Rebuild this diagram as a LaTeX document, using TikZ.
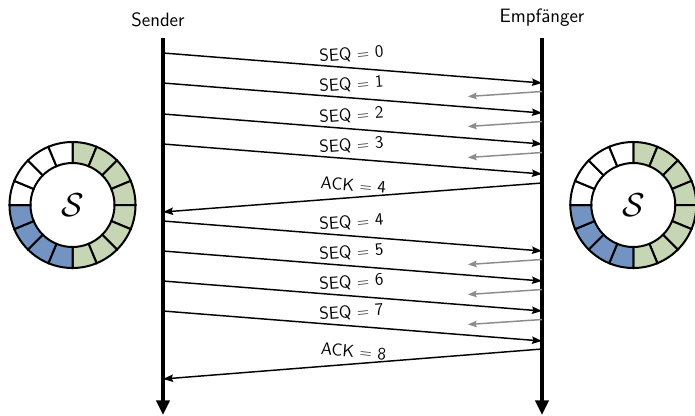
\documentclass[tikz,border=0pt]{standalone}
\usepackage{amsmath}
\usepackage{amssymb}
\usetikzlibrary{arrows.meta}
\definecolor{ringgreen}{RGB}{198,214,180}
\definecolor{ringblue}{RGB}{115,148,194}
\definecolor{lostgray}{RGB}{140,140,140}

\begin{document}
\begin{tikzpicture}[x=0.75pt,y=0.75pt,yscale=-1,xscale=1,
    font=\sffamily\fontsize{14.5}{17}\selectfont,
    lifeline/.style={line width=2.5pt,-{Triangle[length=11pt,width=10pt]}},
    msg/.style={line width=1.1pt,-{Stealth[length=7.5pt,width=5.5pt,inset=1pt]}},
    lost/.style={line width=1.1pt,lostgray,-{Stealth[length=6.5pt,width=5pt,inset=1pt]}},
    lbl/.style={midway,sloped,above=3.5pt,inner sep=0.75pt,font=\sffamily\fontsize{13}{16}\selectfont},
    seg/.style={line width=1.5pt}]
    \useasboundingbox (0,0) rectangle (695,415);

    % Text Node
    \node (sender) [anchor=south,inner sep=0.75pt] at (158,28) {Sender};
    % Text Node
    \node (empf) [anchor=south,inner sep=0.75pt] at (542,28) {Empfänger};

    % lifelines
    \coordinate (sTop) at (163,38);
    \coordinate (sBot) at (163,415);
    \coordinate (eTop) at (542,38);
    \coordinate (eBot) at (542,415);
    \draw[lifeline] (sTop) -- (sBot);
    \draw[lifeline] (eTop) -- (eBot);

    % SEQ packets
    \foreach \k/\ys in {0/53,1/83,2/114,3/144,4/221,5/251,6/281,7/311} {
        \coordinate (s\k) at (163,\ys);
        \coordinate (e\k) at (542,\ys+30);
        \draw[msg] (s\k) -- node[lbl] {SEQ $=$ \k} (e\k);
    }

    % grey arrows at receiver
    \foreach \k/\ys in {0/53,1/83,2/114,4/221,5/251,6/281} {
        \coordinate (g\k) at (542,\ys+38.5);
        \coordinate (h\k) at (468,\ys+43.5);
        \draw[lost] (g\k) -- (h\k);
    }

    % ACKs
    \coordinate (a4) at (542,183);
    \coordinate (b4) at (163,212);
    \draw[msg] (a4) -- node[lbl] {ACK $=$ 4} (b4);
    \coordinate (a8) at (542,349);
    \coordinate (b8) at (163,379);
    \draw[msg] (a8) -- node[lbl] {ACK $=$ 8} (b8);

    % rings
    \foreach \cx in {72.5,633.3} {
        \begin{scope}[shift={(\cx,205)}]
            \foreach \i in {0,...,15} {
                \pgfmathsetmacro{\a}{-90+22.5*\i}
                \ifnum\i<8 \def\segcol{ringgreen}\else\ifnum\i<12 \def\segcol{ringblue}\else\def\segcol{white}\fi\fi
                \filldraw[seg,fill=\segcol] (\a:42) arc[start angle=\a,end angle=\a+22.5,radius=42]
                    -- (\a+22.5:63) arc[start angle=\a+22.5,end angle=\a,radius=63] -- cycle;
            }
            \node (ring) at (0,0) {\fontsize{25}{30}\selectfont$\mathcal{S}$};
        \end{scope}
    }
\end{tikzpicture}
\end{document}
